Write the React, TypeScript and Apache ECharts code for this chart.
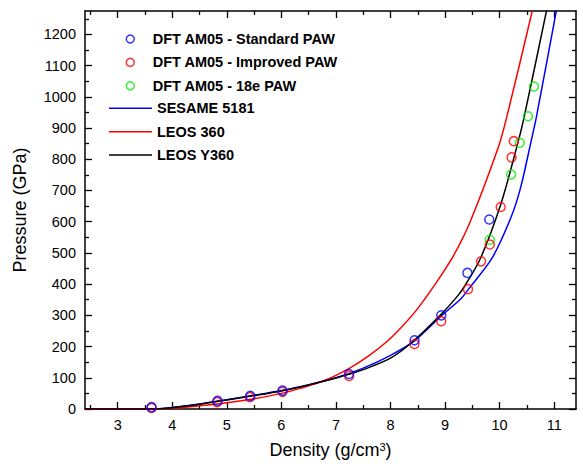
import React, { useEffect, useRef } from 'react';
import * as echarts from 'echarts';

// ---- tick values ----
const xMajor = [3, 4, 5, 6, 7, 8, 9, 10, 11];
const xMinor = [2.5, 3.5, 4.5, 5.5, 6.5, 7.5, 8.5, 9.5, 10.5];
const yMajor = [0, 100, 200, 300, 400, 500, 600, 700, 800, 900, 1000, 1100, 1200];
const yMinor = [50, 150, 250, 350, 450, 550, 650, 750, 850, 950, 1050, 1150, 1250];

// ---- series names ----
const nameStd = 'DFT AM05 - Standard PAW';
const nameImp = 'DFT AM05 - Improved PAW';
const name18e = 'DFT AM05 - 18e PAW';
const nameSes = 'SESAME 5181';
const nameLeos = 'LEOS 360';
const nameY360 = 'LEOS Y360';

// ---- DFT points [density, pressure] ----
const standardPAW = [
  [3.62, 6], [4.83, 26], [5.43, 42], [6.02, 59], [7.24, 112],
  [8.44, 220], [8.93, 300], [9.41, 436], [9.81, 607],
];
const improvedPAW = [
  [3.62, 3], [4.82, 22], [5.42, 38], [6.02, 55], [7.24, 106],
  [8.44, 208], [8.93, 281], [9.42, 384], [9.66, 473], [9.82, 527],
  [10.02, 647], [10.22, 806], [10.26, 858],
];
const paw18e = [
  [9.82, 542], [10.21, 751], [10.37, 853], [10.52, 938], [10.63, 1033],
];

// ---- EOS curves [density, pressure] ----
const sesame5181 = [
  [2.4, 0], [3.0, 0], [3.6, 0], [4.0, 5], [4.5, 16], [5.0, 30], [5.5, 44],
  [6.0, 59], [6.5, 78], [7.0, 100], [7.5, 131], [8.0, 172], [8.45, 220],
  [8.93, 298], [9.3, 355], [9.43, 384], [9.86, 483], [10.2, 610],
  [10.38, 706], [10.58, 860], [10.67, 932], [11.04, 1276], [11.1, 1335],
];
const leos360 = [
  [2.4, 0], [3.0, 0], [3.6, 0], [4.0, 2], [4.5, 10], [5.0, 20], [5.5, 33],
  [6.0, 50], [6.34, 66], [6.8, 92], [7.26, 132], [7.6, 170], [7.94, 217],
  [8.2, 262], [8.49, 320], [8.8, 395], [9.15, 490], [9.46, 600],
  [9.965, 833], [10.12, 928], [10.6, 1276], [10.65, 1320],
];
const leosY360 = [
  [2.4, 0], [3.0, 0], [3.6, 0], [4.0, 4], [4.5, 15], [5.0, 29], [5.5, 43],
  [6.0, 58], [6.5, 77], [7.0, 99], [7.23, 111], [7.5, 126], [8.0, 163],
  [8.39, 213], [8.91, 300], [9.22, 360], [9.36, 394], [9.65, 483],
  [10.02, 655], [10.3, 830], [10.44, 928], [10.86, 1276], [10.9, 1310],
];

const X_MIN = 2.4;
const X_MAX = 11.4;
const Y_MIN = 0;
const Y_MAX = 1275;

const FONT = "'Liberation Sans', Arial, Helvetica, sans-serif";
const BLACK = '#000000';

function xAxisDef(position: string, ticks: number[], len: number, main: boolean, labels: boolean) {
  return {
    type: 'value',
    position,
    min: X_MIN,
    max: X_MAX,
    axisLine: { show: main, onZero: false, lineStyle: { color: BLACK, width: 1.5 } },
    axisTick: { show: true, inside: true, length: len, customValues: ticks, lineStyle: { color: BLACK, width: 1.3 } },
    axisLabel: labels
      ? { show: true, customValues: ticks, margin: 8, fontSize: 14.5, color: BLACK, fontFamily: FONT, formatter: (v: number) => String(v) }
      : { show: false },
    splitLine: { show: false },
    minorTick: { show: false },
  } as any;
}

function yAxisDef(position: string, ticks: number[], len: number, main: boolean, labels: boolean) {
  return {
    type: 'value',
    position,
    min: Y_MIN,
    max: Y_MAX,
    axisLine: { show: main, onZero: false, lineStyle: { color: BLACK, width: 1.5 } },
    axisTick: { show: true, inside: true, length: len, customValues: ticks, lineStyle: { color: BLACK, width: 1.3 } },
    axisLabel: labels
      ? { show: true, customValues: ticks, margin: 9, fontSize: 14.5, color: BLACK, fontFamily: FONT, formatter: (v: number) => String(v) }
      : { show: false },
    splitLine: { show: false },
    minorTick: { show: false },
  } as any;
}

function lineSeries(name: string, data: number[][], color: string) {
  return {
    name,
    type: 'line',
    data,
    symbol: 'none',
    showSymbol: false,
    smooth: 0.3,
    lineStyle: { color, width: 1.5 },
    itemStyle: { color },
    xAxisIndex: 0,
    yAxisIndex: 0,
    z: 2,
  };
}

function pointSeries(name: string, data: number[][], color: string) {
  return {
    name,
    type: 'scatter',
    data,
    symbol: 'circle',
    symbolSize: 9,
    itemStyle: { color: 'rgba(255,255,255,0)', borderColor: color, borderWidth: 1.5 },
    xAxisIndex: 0,
    yAxisIndex: 0,
    z: 3,
  };
}

export default function App() {
  const ref = useRef<HTMLDivElement>(null);

  useEffect(() => {
    if (!ref.current) return;
    const chart = echarts.init(ref.current, undefined, { renderer: 'svg' });

    const legendText = {
      fontSize: 14.5,
      fontWeight: 'bold',
      color: BLACK,
      fontFamily: FONT,
      lineHeight: 23.4,
    };

    const xMain = xAxisDef('bottom', xMajor, 7, true, true);
    xMain.name = 'Density (g/cm{sup|3})';
    xMain.nameLocation = 'middle';
    xMain.nameGap = 32;
    xMain.nameTextStyle = {
      fontSize: 18,
      color: BLACK,
      fontFamily: FONT,
      rich: {
        sup: { fontSize: 11, color: BLACK, fontFamily: FONT, verticalAlign: 'top' },
      },
    };

    const yMain = yAxisDef('left', yMajor, 7, true, true);
    yMain.name = 'Pressure (GPa)';
    yMain.nameLocation = 'middle';
    yMain.nameGap = 56;
    yMain.nameTextStyle = { fontSize: 18, color: BLACK, fontFamily: FONT };

    const option: any = {
      animation: false,
      backgroundColor: '#ffffff',
      textStyle: { fontFamily: FONT },
      grid: { left: 85, right: 7, top: 11, bottom: 52.5, containLabel: false },
      xAxis: [
        xMain,
        xAxisDef('bottom', xMinor, 4, false, false),
        xAxisDef('top', xMajor, 7, true, false),
        xAxisDef('top', xMinor, 4, false, false),
      ],
      yAxis: [
        yMain,
        yAxisDef('left', yMinor, 4, false, false),
        yAxisDef('right', yMajor, 7, true, false),
        yAxisDef('right', yMinor, 4, false, false),
      ],
      legend: [
        {
          data: [nameStd, nameImp, name18e],
          orient: 'vertical',
          left: 125.5,
          top: 27.3,
          icon: 'circle',
          itemWidth: 35,
          itemHeight: 8,
          itemGap: 0,
          padding: 0,
          selectedMode: false,
          itemStyle: { color: 'rgba(255,255,255,0)', borderColor: 'inherit', borderWidth: 1.5 },
          textStyle: legendText,
        },
        {
          data: [nameSes, nameLeos, nameY360],
          orient: 'vertical',
          left: 109,
          top: 96.6,
          icon: 'rect',
          itemWidth: 43,
          itemHeight: 1.5,
          itemGap: 0,
          padding: 0,
          selectedMode: false,
          textStyle: legendText,
        },
      ],
      series: [
        lineSeries(nameSes, sesame5181, '#0000ff'),
        lineSeries(nameLeos, leos360, '#ff0000'),
        lineSeries(nameY360, leosY360, '#000000'),
        pointSeries(name18e, paw18e, '#00ee00'),
        pointSeries(nameImp, improvedPAW, '#ff0000'),
        pointSeries(nameStd, standardPAW, '#0000ff'),
      ],
    };

    chart.setOption(option);
    return () => {
      chart.dispose();
    };
  }, []);

  return (
    <div
      ref={ref}
      style={{ position: 'fixed', left: 0, top: 0, width: 583, height: 464, background: '#fff' }}
    />
  );
}
